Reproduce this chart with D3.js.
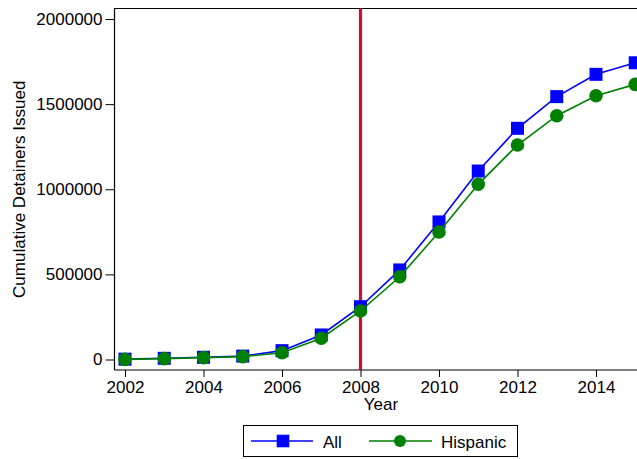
<!DOCTYPE html>
<html>
<head>
<meta charset="utf-8">
<script src="https://cdn.jsdelivr.net/npm/d3@7"></script>
<style>
  body { margin: 0; background: #fff; }
  svg { display: block; font-family: "Liberation Sans", Arial, Helvetica, sans-serif; }
</style>
</head>
<body>
<svg id="chart" width="637" height="459"></svg>
<script>
// Cumulative immigration detainers issued, by year
const years = [2002, 2003, 2004, 2005, 2006, 2007, 2008, 2009, 2010, 2011, 2012, 2013, 2014, 2015];
const allValues = [2000, 7000, 13000, 20000, 52000, 144000, 310000, 526000, 808000, 1107000, 1358000, 1544000, 1675000, 1743000];
const hispanicValues = [1000, 5000, 11000, 17000, 40000, 125000, 285000, 486000, 749000, 1029000, 1260000, 1432000, 1549000, 1616000];
const xTicks = [2002, 2004, 2006, 2008, 2010, 2012, 2014];
const yTicks = [0, 500000, 1000000, 1500000, 2000000];
const markerYear = 2008;
const seriesNames = ["All", "Hispanic"];

const svg = d3.select("#chart");
const W = 637, H = 459;
const FS = 17;

const x = d3.scaleLinear().domain([2002, 2014]).range([125, 596]);
const y = d3.scaleLinear().domain([0, 2000000]).range([359.5, 19]);

const plotLeft = 114.5, plotTop = 8.5, plotBottom = 370;

// Plot frame (left and top edges; the right edge runs off the canvas)
svg.append("path")
  .attr("d", `M${plotLeft},${plotBottom} V${plotTop} H${W + 2}`)
  .attr("fill", "none").attr("stroke", "#000").attr("stroke-width", 1.2);

// Y axis
const yAxis = svg.append("g")
  .attr("transform", `translate(${plotLeft},0)`)
  .call(d3.axisLeft(y).tickValues(yTicks).tickFormat(d3.format("d")).tickSize(9).tickPadding(3));
yAxis.select(".domain").remove();
yAxis.selectAll("line").attr("stroke", "#000").attr("stroke-width", 1);
yAxis.selectAll("text").attr("font-size", FS).attr("fill", "#000")
  .attr("font-family", "Liberation Sans, Arial, sans-serif");

// X axis
const xAxis = svg.append("g")
  .attr("transform", `translate(0,${plotBottom})`)
  .call(d3.axisBottom(x).tickValues(xTicks).tickFormat(d3.format("d")).tickSize(7).tickPadding(4));
xAxis.select(".domain").remove();
xAxis.selectAll("line").attr("stroke", "#000").attr("stroke-width", 1);
xAxis.selectAll("text").attr("font-size", FS).attr("fill", "#000")
  .attr("font-family", "Liberation Sans, Arial, sans-serif");
svg.append("line")
  .attr("x1", plotLeft).attr("x2", W + 2)
  .attr("y1", plotBottom).attr("y2", plotBottom)
  .attr("stroke", "#000").attr("stroke-width", 1.2);

// Axis titles
svg.append("text")
  .attr("transform", `translate(25,${(plotTop + plotBottom) / 2}) rotate(-90)`)
  .attr("text-anchor", "middle")
  .attr("font-size", FS)
  .text("Cumulative Detainers Issued");
svg.append("text")
  .attr("x", 381).attr("y", 410)
  .attr("text-anchor", "middle")
  .attr("font-size", FS)
  .text("Year");

// Reference line at 2008
svg.append("line")
  .attr("x1", x(markerYear)).attr("x2", x(markerYear))
  .attr("y1", plotTop).attr("y2", plotBottom)
  .attr("stroke", "#c8103c").attr("stroke-width", 3.2);

const line = d3.line().x(d => x(d[0])).y(d => y(d[1]));
const allData = years.map((yr, i) => [yr, allValues[i]]);
const hispData = years.map((yr, i) => [yr, hispanicValues[i]]);

const blue = "#0000ff", green = "#008000";
const sq = 13, r = 6.8;

// "All" series
svg.append("path").datum(allData)
  .attr("d", line).attr("fill", "none").attr("stroke", blue).attr("stroke-width", 1.6);
svg.append("g").selectAll("rect").data(allData).join("rect")
  .attr("x", d => x(d[0]) - sq / 2).attr("y", d => y(d[1]) - sq / 2)
  .attr("width", sq).attr("height", sq).attr("fill", blue);

// "Hispanic" series
svg.append("path").datum(hispData)
  .attr("d", line).attr("fill", "none").attr("stroke", green).attr("stroke-width", 1.6);
svg.append("g").selectAll("circle").data(hispData).join("circle")
  .attr("cx", d => x(d[0])).attr("cy", d => y(d[1])).attr("r", r).attr("fill", green);

// Legend
const lg = svg.append("g");
lg.append("rect").attr("x", 243.5).attr("y", 425.5).attr("width", 274).attr("height", 31)
  .attr("fill", "#fff").attr("stroke", "#000").attr("stroke-width", 1);
lg.append("line").attr("x1", 251).attr("x2", 313).attr("y1", 441).attr("y2", 441)
  .attr("stroke", blue).attr("stroke-width", 1.6);
lg.append("rect").attr("x", 283 - 6.3).attr("y", 441 - 6.3).attr("width", 12.6).attr("height", 12.6).attr("fill", blue);
lg.append("text").attr("x", 323).attr("y", 448).attr("font-size", FS).text(seriesNames[0]);
lg.append("line").attr("x1", 369).attr("x2", 432).attr("y1", 441).attr("y2", 441)
  .attr("stroke", green).attr("stroke-width", 1.6);
lg.append("circle").attr("cx", 400).attr("cy", 441).attr("r", 6).attr("fill", green);
lg.append("text").attr("x", 441).attr("y", 448).attr("font-size", FS).text(seriesNames[1]);
</script>
</body>
</html>
